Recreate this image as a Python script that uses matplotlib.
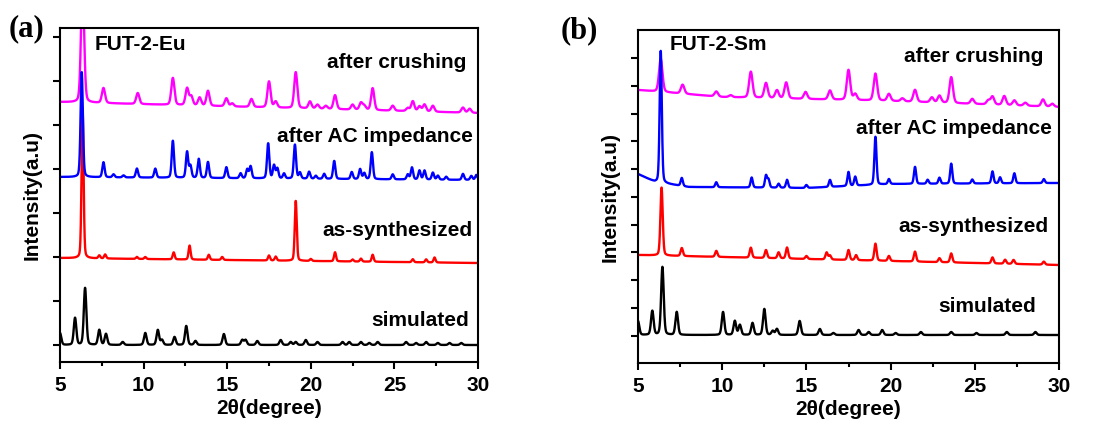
#!/usr/bin/env python3
"""
PXRD patterns of FUT-2-Eu (a) and FUT-2-Sm (b), stacked with offsets.
"""

import numpy as np
import matplotlib.pyplot as plt

plt.rcParams['font.family'] = ['Liberation Sans', 'DejaVu Sans']
plt.rcParams['font.weight'] = 'bold'

# ---- data (2theta in degree, heights in plot units) ----
# panel (a) FUT-2-Eu
eu_sim_pos = [5.0, 5.9, 6.5, 7.35, 7.75, 8.75, 10.1, 10.85, 11.1, 11.85, 12.55, 13.1,
              14.8, 15.9, 16.1, 16.8, 18.2, 18.8, 19.1, 19.7, 20.4, 21.9, 22.3, 23.0,
              23.5, 24.0, 25.7, 26.3, 26.9, 27.6, 28.3, 29.0]
eu_sim_h = [12, 27, 57, 15, 11, 3, 12, 15, 5, 8, 19, 4,
            11, 5, 5, 4, 5, 3, 3, 5, 3, 3, 3, 3,
            2, 3, 3, 2, 3, 2, 2, 2]
eu_sim_base = ([5, 30], [17, 17])

eu_syn_pos = [6.35, 7.35, 7.7, 9.6, 10.1, 11.8, 12.75, 13.9, 14.7, 17.5, 17.9, 19.1,
              20.0, 21.45, 22.5, 23.0, 23.7, 26.1, 26.9, 27.4]
eu_syn_h = [150, 3, 4, 2, 2, 7, 14, 5, 3, 5, 4, 60,
            2, 9, 2, 3, 7, 3, 3, 5]
eu_syn_base = ([5, 30], [104, 99])

eu_ac_pos = [6.3, 7.6, 8.2, 8.8, 9.6, 10.7, 11.75, 12.6, 12.8, 13.3, 13.85, 14.95,
             15.8, 16.2, 16.4, 17.45, 17.8, 18.0, 18.4, 19.05, 19.35, 19.9, 20.3, 20.8,
             21.4, 22.45, 22.95, 23.2, 23.65, 24.9, 25.8, 26.05, 26.5, 26.8, 27.3, 27.6,
             28.1, 29.1, 29.6, 29.9]
eu_ac_h = [105, 15, 3, 2, 9, 9, 37, 26, 12, 19, 16, 11,
           5, 9, 12, 35, 13, 10, 5, 34, 6, 7, 3, 5,
           18, 7, 10, 6, 27, 5, 5, 12, 9, 9, 7, 4,
           3, 6, 4, 5]
eu_ac_base = ([5, 30], [185, 182])

eu_cr_pos = [6.35, 7.6, 9.65, 11.75, 12.6, 12.85, 13.35, 13.85, 14.95, 15.3, 16.45, 17.5,
             17.9, 19.1, 19.95, 20.4, 20.9, 21.45, 22.5, 23.0, 23.2, 23.7, 24.9, 25.8,
             26.1, 26.5, 26.8, 27.3, 29.1, 29.5]
eu_cr_h = [120, 15, 11, 27, 17, 9, 8, 15, 8, 3, 8, 26,
           6, 36, 7, 4, 3, 14, 5, 7, 4, 22, 5, 3,
           10, 5, 7, 6, 5, 4]
eu_cr_base = ([5, 30], [260, 249])

# panel (b) FUT-2-Sm
sm_sim_pos = [5.0, 5.85, 6.45, 7.3, 10.05, 10.75, 11.05, 11.8, 12.5, 13.0, 13.25, 14.6,
              15.8, 16.6, 18.1, 18.7, 19.5, 20.3, 21.8, 23.6, 25.1, 26.9, 28.6]
sm_sim_h = [14, 24, 68, 23, 23, 14, 10, 12, 26, 4, 6, 14,
            6, 2, 5, 3, 5, 2, 3, 3, 2, 3, 3]
sm_sim_base = ([5, 30], [28, 28])

sm_syn_pos = [6.4, 7.6, 9.65, 11.7, 12.6, 13.35, 13.85, 15.0, 16.2, 16.4, 17.5, 17.95,
              19.1, 19.9, 21.45, 22.9, 23.6, 26.05, 26.8, 27.3, 29.1]
sm_syn_h = [68, 8, 6, 10, 8, 6, 11, 3, 7, 4, 10, 5,
            17, 5, 10, 4, 9, 6, 4, 4, 3]
sm_syn_base = ([5, 30], [108, 98])

sm_ac_pos = [6.35, 7.6, 9.65, 11.75, 12.6, 12.75, 13.35, 13.85, 15.0, 16.4, 17.5, 17.9,
             19.1, 19.9, 21.45, 22.2, 22.9, 23.6, 24.85, 26.05, 26.5, 27.35, 29.1]
sm_ac_h = [132, 8, 5, 10, 12, 8, 4, 8, 3, 7, 14, 9,
           48, 5, 17, 4, 6, 20, 4, 12, 6, 10, 4]
sm_ac_base = ([5, 5.5, 6.0, 8.0, 15.0, 20.0, 30.0], [189, 185, 181, 176, 175, 179, 180])

sm_cr_pos = [6.35, 7.65, 9.65, 10.5, 11.7, 12.6, 13.25, 13.8, 14.95, 16.4, 17.5, 17.9,
             19.1, 19.9, 20.7, 21.45, 22.45, 22.9, 23.6, 24.85, 25.8, 26.05, 26.75, 27.35,
             28.0, 29.05, 29.6]
sm_cr_h = [33, 9, 5, 2, 26, 15, 8, 16, 7, 9, 30, 6,
           27, 7, 3, 12, 5, 7, 26, 5, 4, 8, 9, 5,
           3, 7, 3]
sm_cr_base = ([5, 10, 20, 30], [273, 266, 262, 256])

# y tick positions (no labels) for each panel
eu_yticks = [17, 61, 105, 149, 193, 237, 281, 325]
sm_yticks = [27, 55, 83, 111, 138, 166, 194, 222, 249, 277, 305]


def pattern(tt, pos, heights, base, width):
    """Build a diffraction line from a list of read-off peaks."""
    y = np.interp(tt, base[0], base[1])
    for c, h in zip(pos, heights):
        g = np.exp(-4 * np.log(2) * ((tt - c) / width) ** 2)
        lor = 1.0 / (1 + 4 * ((tt - c) / width) ** 2)
        y = y + h * (0.75 * g + 0.25 * lor)
    return y


def style_axes(ax, yticks, ytop):
    ax.set_xlim(5, 30)
    ax.set_ylim(0, ytop)
    ax.set_xticks([5, 10, 15, 20, 25, 30])
    ax.set_xticks(np.arange(7.5, 30, 5), minor=True)
    ax.set_yticks(yticks)
    ax.set_yticklabels([])
    ax.tick_params(axis='x', which='major', direction='out', length=5, width=1.5,
                   labelsize=15, pad=5)
    ax.tick_params(axis='x', which='minor', direction='out', length=3, width=1.5)
    ax.tick_params(axis='y', direction='out', length=5, width=1.5)
    for s in ax.spines.values():
        s.set_linewidth(1.5)
    for lab in ax.get_xticklabels():
        lab.set_fontweight('bold')
    ax.set_xlabel('2θ(degree)', fontsize=15, fontweight='bold', labelpad=3)
    ax.set_ylabel('Intensity(a.u)', fontsize=15, fontweight='bold', labelpad=5)


def main():
    tt = np.linspace(5, 30, 3000)
    lw = 1.7

    fig = plt.figure(figsize=(11.07, 4.25), dpi=100)
    ax1 = fig.add_axes([60 / 1107, 63 / 425, 418 / 1107, 334 / 425])
    ax2 = fig.add_axes([638 / 1107, 62 / 425, 421 / 1107, 333 / 425])

    # (a) FUT-2-Eu
    ax1.plot(tt, pattern(tt, eu_sim_pos, eu_sim_h, eu_sim_base, 0.18), color='black', lw=lw)
    ax1.plot(tt, pattern(tt, eu_syn_pos, eu_syn_h, eu_syn_base, 0.14), color='red', lw=lw)
    ax1.plot(tt, pattern(tt, eu_cr_pos, eu_cr_h, eu_cr_base, 0.22), color='#ff00ff', lw=lw)
    ax1.plot(tt, pattern(tt, eu_ac_pos, eu_ac_h, eu_ac_base, 0.16), color='blue', lw=lw)
    style_axes(ax1, eu_yticks, 334)

    kw = dict(fontsize=15, fontweight='bold')
    ax1.text(7.1, 317, 'FUT-2-Eu', ha='left', va='center', **kw)
    ax1.text(29.3, 299, 'after crushing', ha='right', va='center', **kw)
    ax1.text(29.7, 225, 'after AC impedance', ha='right', va='center', **kw)
    ax1.text(29.7, 132, 'as-synthesized', ha='right', va='center', **kw)
    ax1.text(29.45, 41, 'simulated', ha='right', va='center', **kw)

    # (b) FUT-2-Sm
    ax2.plot(tt, pattern(tt, sm_sim_pos, sm_sim_h, sm_sim_base, 0.18), color='black', lw=lw)
    ax2.plot(tt, pattern(tt, sm_syn_pos, sm_syn_h, sm_syn_base, 0.16), color='red', lw=lw)
    ax2.plot(tt, pattern(tt, sm_cr_pos, sm_cr_h, sm_cr_base, 0.24), color='#ff00ff', lw=lw)
    ax2.plot(tt, pattern(tt, sm_ac_pos, sm_ac_h, sm_ac_base, 0.15), color='blue', lw=lw)
    style_axes(ax2, sm_yticks, 333)

    ax2.text(6.9, 318, 'FUT-2-Sm', ha='left', va='center', **kw)
    ax2.text(29.05, 306, 'after crushing', ha='right', va='center', **kw)
    ax2.text(29.6, 235, 'after AC impedance', ha='right', va='center', **kw)
    ax2.text(29.4, 136, 'as-synthesized', ha='right', va='center', **kw)
    ax2.text(28.65, 57, 'simulated', ha='right', va='center', **kw)

    # panel letters
    letter = dict(fontsize=22, family='Liberation Serif', fontweight='bold',
                  ha='center', va='center')
    fig.text(27 / 1107, 1 - 29 / 425, '(a)', **letter)
    fig.text(579 / 1107, 1 - 31 / 425, '(b)', **letter)

    fig.savefig('out.png', dpi=100)


if __name__ == "__main__":
    main()
